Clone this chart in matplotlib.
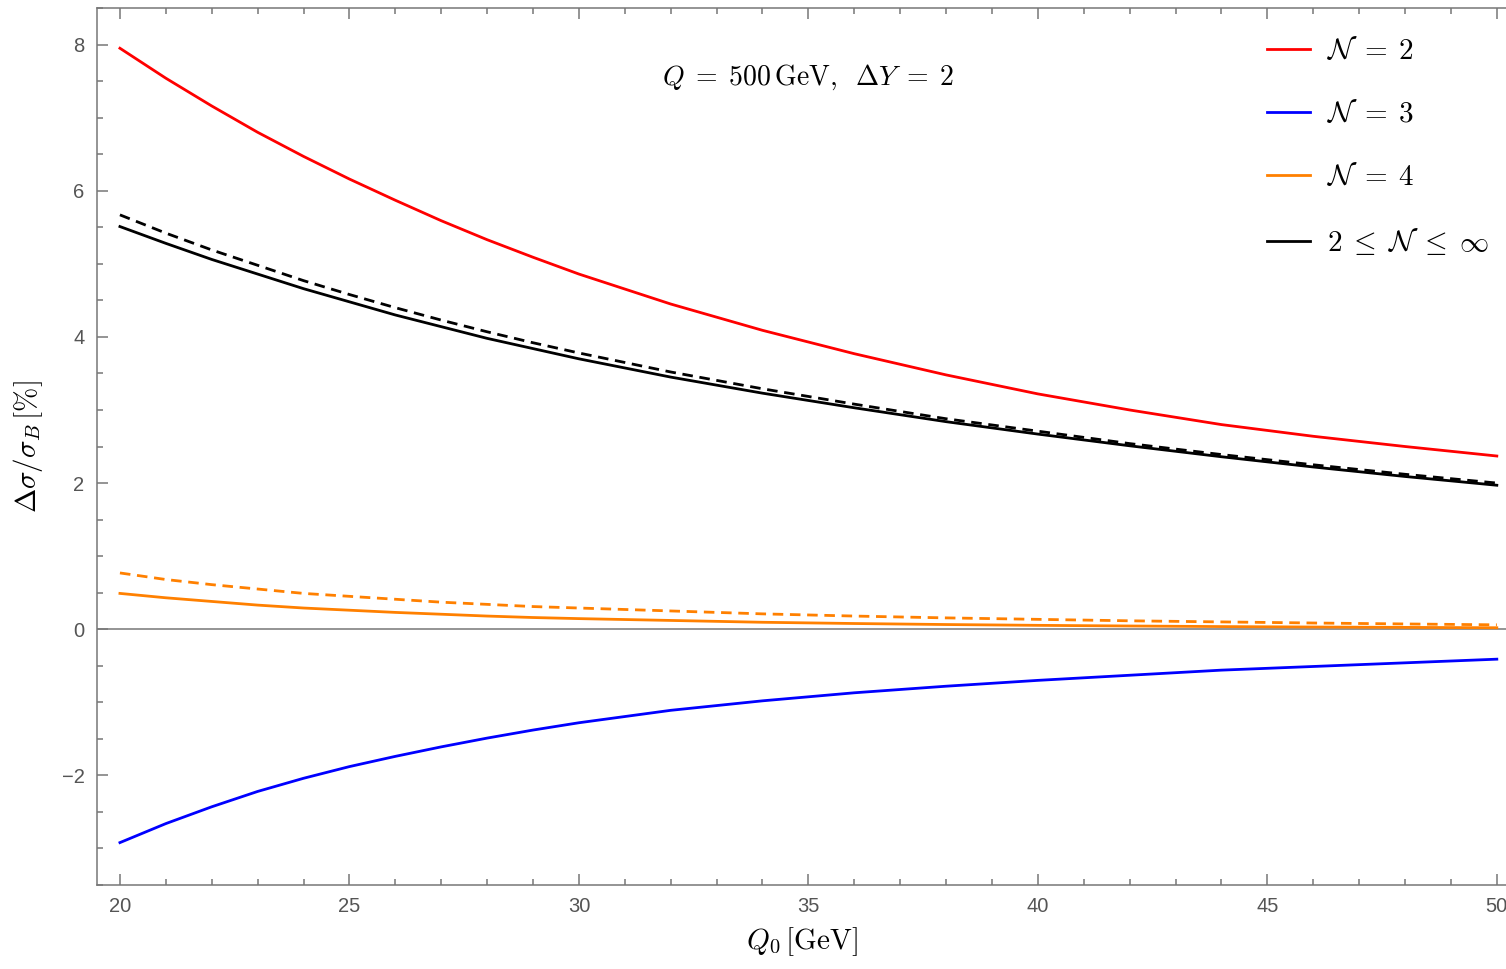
import numpy as np
import matplotlib.pyplot as plt
from matplotlib.ticker import MultipleLocator

plt.rcParams['mathtext.fontset'] = 'cm'
plt.rcParams['font.family'] = ['Liberation Sans', 'DejaVu Sans']

# data
q0 = [20, 21, 22, 23, 24, 25, 26, 27, 28, 29, 30, 32, 34, 36, 38, 40, 42, 44, 46, 48, 50]
n2 = [7.95, 7.54, 7.16, 6.80, 6.47, 6.16, 5.87, 5.59, 5.33, 5.09, 4.86,
      4.45, 4.09, 3.77, 3.48, 3.22, 3.00, 2.80, 2.64, 2.50, 2.37]
n3 = [-2.92, -2.66, -2.43, -2.22, -2.04, -1.88, -1.74, -1.61, -1.49, -1.38, -1.28,
      -1.11, -0.98, -0.87, -0.78, -0.70, -0.63, -0.56, -0.51, -0.46, -0.41]
n4 = [0.49, 0.43, 0.38, 0.33, 0.29, 0.26, 0.23, 0.205, 0.18, 0.16, 0.145,
      0.12, 0.095, 0.078, 0.064, 0.053, 0.044, 0.036, 0.03, 0.025, 0.02]
n4_dash = [0.77, 0.68, 0.61, 0.55, 0.49, 0.45, 0.41, 0.37, 0.34, 0.31, 0.29,
           0.25, 0.21, 0.18, 0.155, 0.135, 0.115, 0.10, 0.085, 0.072, 0.06]
nall = [5.51, 5.28, 5.06, 4.86, 4.66, 4.48, 4.30, 4.14, 3.98, 3.84, 3.70,
        3.45, 3.23, 3.03, 2.84, 2.67, 2.51, 2.36, 2.22, 2.09, 1.97]
nall_dash = [5.67, 5.42, 5.19, 4.98, 4.77, 4.58, 4.40, 4.23, 4.07, 3.92, 3.78,
             3.52, 3.29, 3.08, 2.88, 2.71, 2.54, 2.39, 2.25, 2.12, 2.00]

fig = plt.figure(figsize=(15.06, 9.69), dpi=100)
ax = fig.add_axes([0.0644, 0.0867, 0.9356, 0.905])

lw = 2.0
ax.axhline(0, color='#777777', lw=1.1, zorder=1)
ax.plot(q0, n2, color='#ff0000', lw=lw, label=r'$\mathcal{N}\;=\;2$')
ax.plot(q0, n3, color='#0000ff', lw=lw, label=r'$\mathcal{N}\;=\;3$')
ax.plot(q0, n4, color='#ff8000', lw=lw, label=r'$\mathcal{N}\;=\;4$')
ax.plot(q0, nall, color='black', lw=lw, label=r'$2\;\leq\;\mathcal{N}\;\leq\;\infty$')
ax.plot(q0, n4_dash, color='#ff8000', lw=lw, ls=(0, (3.8, 2.4)))
ax.plot(q0, nall_dash, color='black', lw=lw, ls=(0, (3.8, 2.4)))

ax.set_xlim(19.5, 50.2)
ax.set_ylim(-3.5, 8.5)
ax.xaxis.set_major_locator(MultipleLocator(5))
ax.xaxis.set_minor_locator(MultipleLocator(1))
ax.yaxis.set_major_locator(MultipleLocator(2))
ax.yaxis.set_minor_locator(MultipleLocator(0.5))

for s in ['left', 'bottom', 'top']:
    ax.spines[s].set_color('#777777')
    ax.spines[s].set_linewidth(1.1)
ax.spines['right'].set_visible(False)
ax.tick_params(which='both', direction='in', color='#777777', labelcolor='#555555',
               labelsize=14.5, top=True, right=False, width=1.1)
ax.tick_params(which='major', length=8, pad=9)
ax.tick_params(which='minor', length=4.5)

ax.set_xlabel(r'$Q_0\,[\mathrm{GeV}]$', fontsize=21, labelpad=6)
ax.set_ylabel(r'$\Delta\sigma/\sigma_B\,[\%]$', fontsize=21, labelpad=12)

ax.text(35.0, 7.55, r'$Q\;=\;500\,\mathrm{GeV},\;\;\Delta Y\;=\;2$', fontsize=20,
        ha='center', va='center')

ax.legend(loc='upper right', frameon=False, fontsize=21, handlelength=1.45,
          handletextpad=0.6, labelspacing=1.2, borderaxespad=0.6,
          bbox_to_anchor=(1.009, 1.0))

fig.savefig('out.png', dpi=100)
